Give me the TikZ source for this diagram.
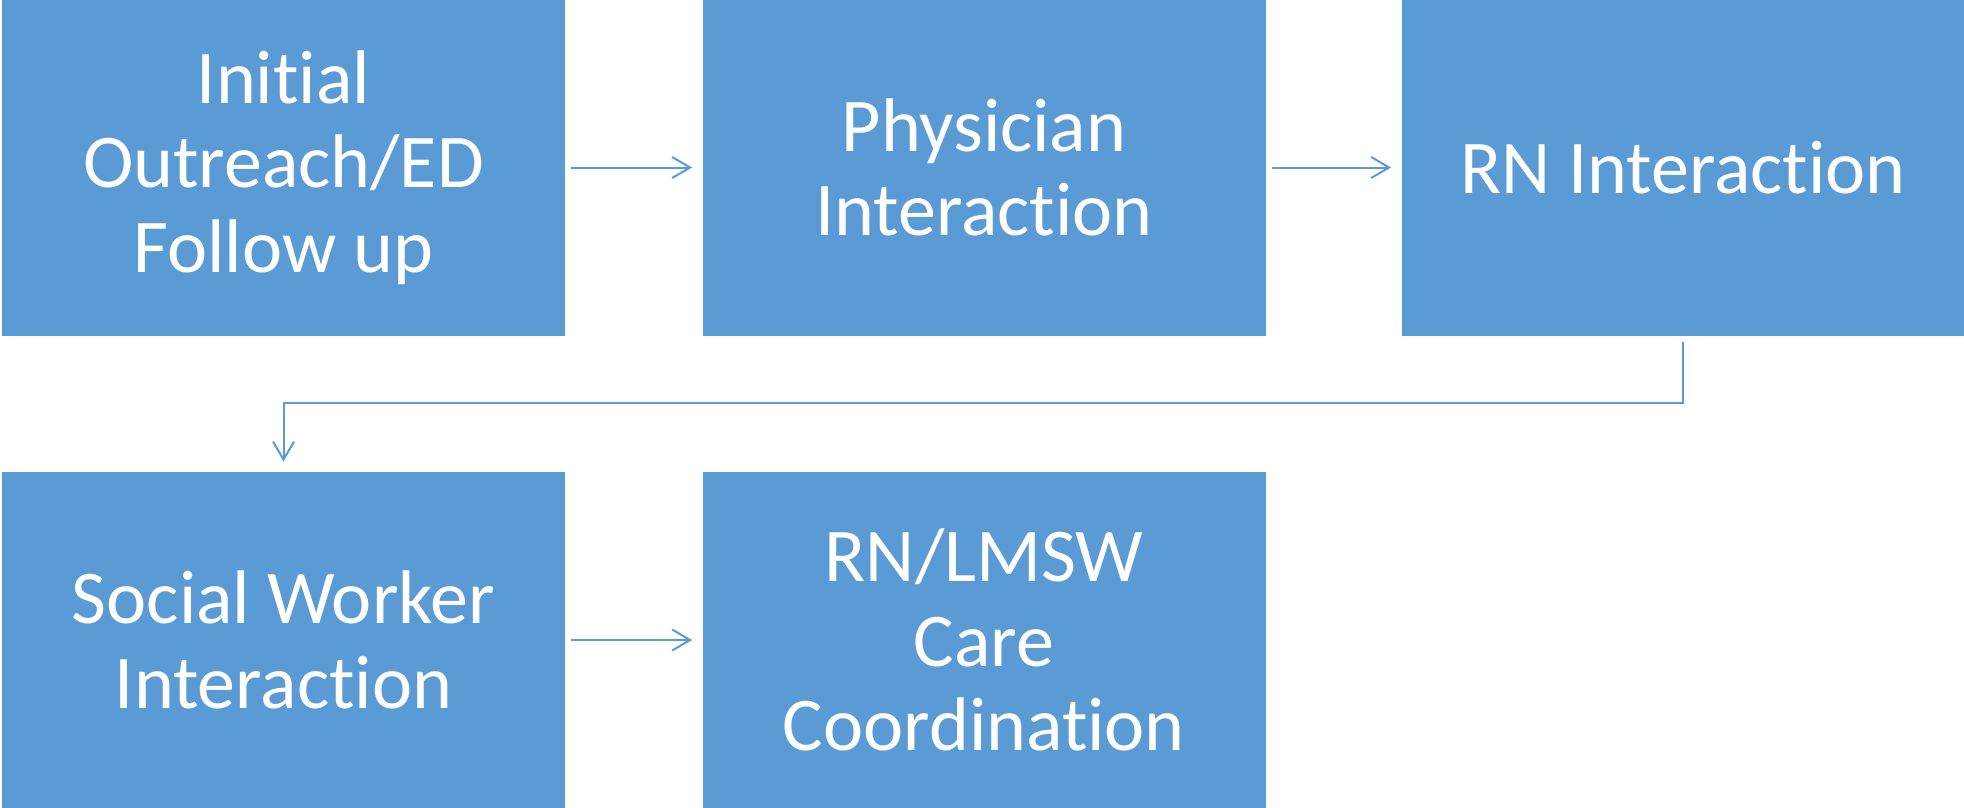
\documentclass[tikz,border=0pt]{standalone}
\usepackage{fontspec}
\setmainfont{Carlito}[RawFeature={-liga;-clig;-calt;-dlig;-hlig}]
\usetikzlibrary{arrows.meta}
\definecolor{boxblue}{HTML}{5B9BD5}
\newcommand{\tisep}{t\kern0pt i}
\begin{document}
\begin{tikzpicture}[x=0.5pt,y=-0.5pt,
 stepbox/.style={fill=boxblue, draw=none, minimum width=281.5pt, minimum height=168pt, inner sep=0pt, text=white, align=center, font=\fontsize{38}{42.25}\selectfont},
 conn/.style={draw=boxblue, line width=1pt, -{Straight Barb[length=9pt,width=10.5pt]}, shorten <=3pt, shorten >=5pt}]
\useasboundingbox (0,0) rectangle (1964,808);
\node[stepbox] (a) at (283.5,167.5) {Ini\tisep al\\Outreach/ED\\Follow up};
\node[stepbox] (b) at (984,167.5) {Physician\\Interac\tisep on};
\node[stepbox] (c) at (1683,167.5) {RN Interac\tisep on};
\node[stepbox] (d) at (283.5,640) {Social Worker\\Interac\tisep on};
\node[stepbox] (e) at (984,640) {RN/LMSW\\Care\\Coordina\tisep on};
\coordinate (mid) at (0,403);
\draw[conn] (a) -- (b);
\draw[conn] (b) -- (c);
\draw[conn] (d) -- (e);
\draw[conn] (c.south) -- (c.south |- mid) -- (d.north |- mid) -- (d.north);
\end{tikzpicture}
\end{document}
